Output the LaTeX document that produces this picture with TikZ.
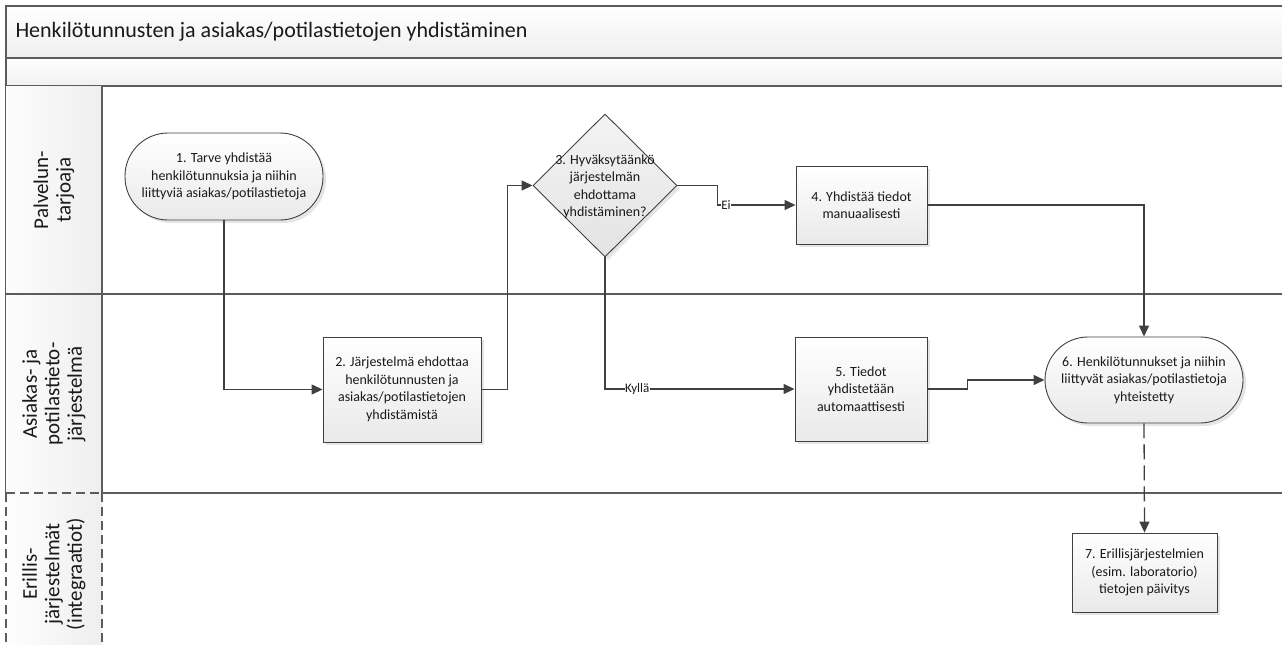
\documentclass[tikz,border=0pt]{standalone}
\usepackage{fontspec}
\setmainfont{Carlito}
\usetikzlibrary{arrows.meta,shapes.geometric,shadows}

\definecolor{linec}{HTML}{404040}
\definecolor{framec}{HTML}{5C5C5C}
\definecolor{txtc}{HTML}{1A1A1A}

\begin{document}
\begin{tikzpicture}[x=1pt,y=-1pt,
  every node/.style={font=\fontsize{14}{17.5}\selectfont, text=txtc},
  shapebase/.style={draw=linec, line width=0.9pt, align=center, inner sep=2pt,
    top color=white, bottom color=gray!17,
    drop shadow={shadow xshift=3pt, shadow yshift=-3pt, fill=black!20}},
  procbox/.style={shapebase, rectangle},
  termbox/.style={shapebase, rectangle, rounded corners=43pt},
  decbox/.style={diamond, draw=linec, line width=0.9pt, inner sep=0pt,
    top color=gray!9, bottom color=gray!22,
    drop shadow={shadow xshift=3pt, shadow yshift=-3pt, fill=black!20}},
  flow/.style={draw=linec, line width=1.3pt, -{Triangle[length=11pt,width=10pt]}},
  dataflow/.style={flow, dash pattern=on 15pt off 6pt},
  flowlbl/.style={fill=white, inner sep=0.5pt, font=\fontsize{13}{14}\selectfont},
  frameline/.style={draw=framec, line width=1.5pt},
  lanedash/.style={draw=framec, line width=1.5pt, dash pattern=on 9pt off 5pt},
  lanelbl/.style={rotate=90, align=center, font=\fontsize{21}{22.5}\selectfont}
]
\useasboundingbox (0,0) rectangle (1282,645);
\clip (0,0) rectangle (1282,645);

% ---- pool header bands ----
\shade[top color=white, bottom color=gray!13] (6,6) rectangle (1290,58);
\shade[top color=white, bottom color=gray!11] (6,58) rectangle (1290,86);
\draw[frameline] (1290,6) -- (6,6) -- (6,493);
\draw[frameline] (6,58) -- (1290,58);
\draw[frameline] (6,86) -- (1290,86);
\node[anchor=west, font=\fontsize{22}{24}\selectfont] (title) at (12,32)
  {Henkilötunnusten ja asiakas/potilastietojen yhdistäminen};

% ---- lane headers ----
\shade[left color=gray!2, right color=gray!13] (6,86) rectangle (102,294);
\shade[left color=gray!2, right color=gray!13] (6,294) rectangle (102,493);
\shade[left color=gray!1, right color=gray!13] (6,493) rectangle (102,650);
\draw[frameline] (102,86) -- (102,493);
\draw[frameline] (6,294) -- (1290,294);
\draw[frameline] (102,493) -- (1290,493);
\draw[lanedash] (6,493) -- (102,493);
\draw[lanedash] (6,493) -- (6,650);
\draw[lanedash] (102,493) -- (102,650);

\node[lanelbl] (lane1) at (54,190) {Palvelun-\\tarjoaja};
\node[lanelbl] (lane2) at (54,394) {Asiakas- ja\\potilastieto-\\järjestelmä};
\node[lanelbl] (lane3) at (54,574) {Erillis-\\järjestelmät\\(integraatiot)};

% ---- process shapes ----
\node[termbox, minimum width=198pt, minimum height=87pt] (n1) at (224,176.5)
  {1. Tarve yhdistää\\henkilötunnuksia ja niihin\\liittyviä asiakas/potilastietoja};
\node[procbox, minimum width=158pt, minimum height=105pt] (n2) at (402,389.5)
  {2. Järjestelmä ehdottaa\\henkilötunnusten ja\\asiakas/potilastietojen\\yhdistämistä};
\node[decbox, minimum width=144pt, minimum height=143pt] (d3) at (605,185.5) {};
\node[align=center, inner sep=0pt] (d3t) at (605,187)
  {3. Hyväksytäänkö\\järjestelmän\\ehdottama\\yhdistäminen?};
\node[procbox, minimum width=131pt, minimum height=78pt] (n4) at (861.5,205)
  {4. Yhdistää tiedot\\manuaalisesti};
\node[procbox, minimum width=132pt, minimum height=104pt] (n5) at (861,389)
  {5. Tiedot\\yhdistetään\\automaattisesti};
\node[termbox, minimum width=198pt, minimum height=86pt] (n6) at (1144,380)
  {6. Henkilötunnukset ja niihin\\liittyvät asiakas/potilastietoja\\yhteistetty};
\node[procbox, minimum width=145pt, minimum height=79pt] (n7) at (1144.5,572.5)
  {7. Erillisjärjestelmien\\(esim. laboratorio)\\tietojen päivitys};

% ---- connectors ----
\draw[flow] (n1.south) |- (n2.west);
\draw[flow] (n2.east) -- ++(26,0) |- (d3.west);
\draw[flow] (d3.east) -- ++(40,0) |- node[flowlbl, pos=0.555] {Ei} (n4.west);
\draw[flow] (d3.south) |- node[flowlbl, pos=0.585] {Kyllä} (n5.west);
\draw[flow] (n4.east) -| (n6.north);
\draw[flow] (n5.east) -- ++(40,0) |- (n6.west);
\draw[dataflow] (n6.south) -- (n7.north);
\end{tikzpicture}
\end{document}
